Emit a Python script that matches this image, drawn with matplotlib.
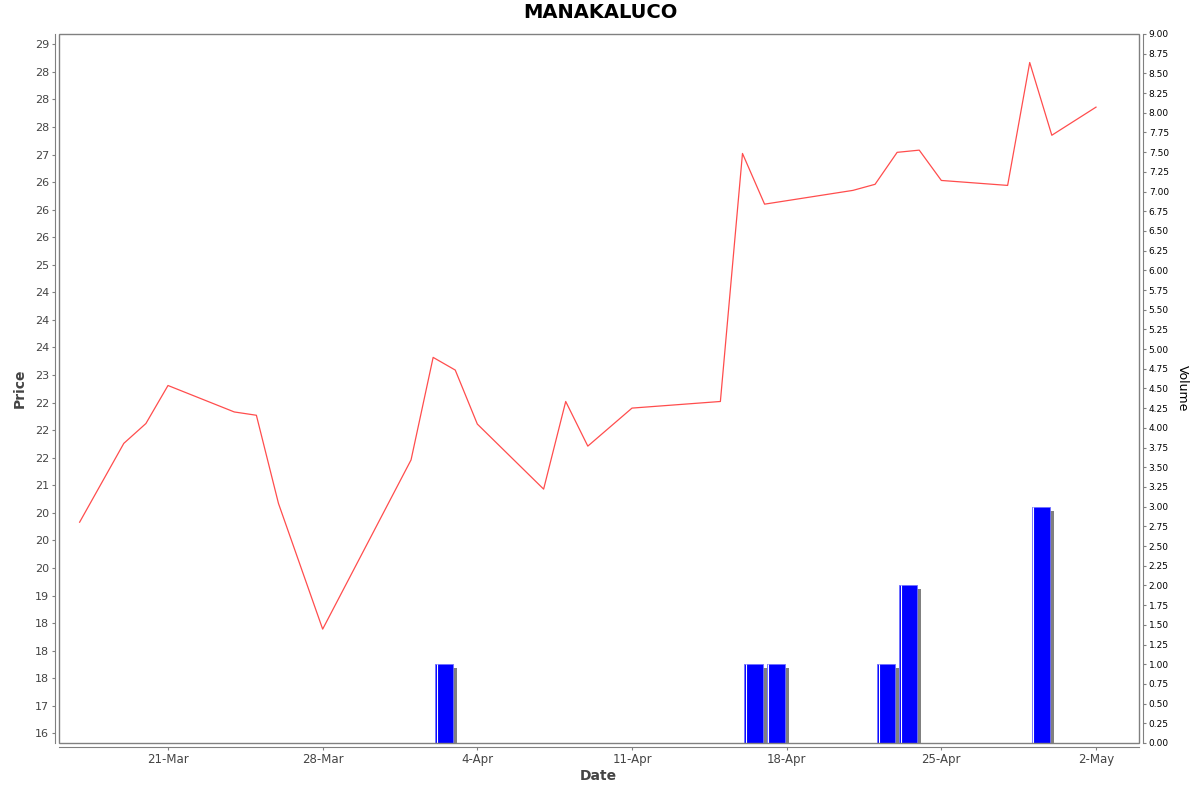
import datetime as dt

import matplotlib
matplotlib.use("Agg")
import matplotlib.pyplot as plt
import matplotlib.dates as mdates
import matplotlib.patheffects as pe
import numpy as np
from matplotlib.patches import Rectangle
from matplotlib.ticker import FixedLocator, FuncFormatter

# price series
price_dates = ["2025-03-17", "2025-03-19", "2025-03-20", "2025-03-21", "2025-03-24",
               "2025-03-25", "2025-03-26", "2025-03-28", "2025-04-01", "2025-04-02",
               "2025-04-03", "2025-04-04", "2025-04-07", "2025-04-08", "2025-04-09",
               "2025-04-11", "2025-04-15", "2025-04-16", "2025-04-17", "2025-04-21",
               "2025-04-22", "2025-04-23", "2025-04-24", "2025-04-25", "2025-04-28",
               "2025-04-29", "2025-04-30", "2025-05-02"]
price_values = [20.33, 21.76, 22.12, 22.81, 22.33,
                22.27, 20.67, 18.39, 21.46, 23.32,
                23.09, 22.11, 20.93, 22.52, 21.71,
                22.40, 22.52, 27.02, 26.10, 26.35,
                26.46, 27.04, 27.08, 26.53, 26.44,
                28.67, 27.35, 27.86]

# volume series
vol_dates = ["2025-04-02", "2025-04-16", "2025-04-17", "2025-04-22", "2025-04-23", "2025-04-29"]
vol_values = [1, 1, 1, 1, 2, 3]

x_ticks = ["2025-03-21", "2025-03-28", "2025-04-04", "2025-04-11",
           "2025-04-18", "2025-04-25", "2025-05-02"]


def to_num(days):
    return mdates.date2num([dt.datetime.strptime(d, "%Y-%m-%d") for d in days])


px = to_num(price_dates)
vx = to_num(vol_dates)
tx = to_num(x_ticks)

fig = plt.figure(figsize=(12, 7.92), dpi=100)
ax = fig.add_axes([59 / 1200, 1 - 743 / 792, 1080 / 1200, 709 / 792])
vax = ax.twinx()
ax.set_zorder(2)
ax.patch.set_visible(False)
vax.set_zorder(1)

grey = "#808080"
txt = "#444444"

# volume bars with drop shadow
bars = vax.bar(vx + 0.09, vol_values, width=0.82, align="edge", color="#0000ff",
               edgecolor="#7070ff", linewidth=0.6)
for b in bars:
    b.set_path_effects([pe.SimplePatchShadow(offset=(2.9, -2.9), shadow_rgbFace=grey, alpha=1.0),
                        pe.Normal()])
vax.vlines(vx + 0.16, 0, vol_values, color="white", linewidth=0.8)

ax.plot(px, price_values, color="#ff4d4d", linewidth=0.9)

x0 = mdates.date2num(dt.datetime(2025, 3, 16)) + 0.067
x1 = mdates.date2num(dt.datetime(2025, 5, 3)) + 0.946
ax.set_xlim(x0, x1)
ax.set_ylim(16.324, 29.187)
vax.set_ylim(0, 9)

ax.xaxis.set_major_locator(FixedLocator(tx))
ax.xaxis.set_major_formatter(mdates.DateFormatter("%-d-%b"))
ax.yaxis.set_major_locator(FixedLocator(np.arange(16.5, 29.01, 0.5)))
ax.yaxis.set_major_formatter(FuncFormatter(lambda v, p: f"{v:.0f}"))
vax.yaxis.set_major_locator(FixedLocator(np.arange(0, 9.01, 0.25)))
vax.yaxis.set_major_formatter(FuncFormatter(lambda v, p: f"{v:.2f}"))

for s in ["top", "right"]:
    ax.spines[s].set_visible(False)
for s in ["top", "left", "bottom"]:
    vax.spines[s].set_visible(False)
for s in ["left", "bottom"]:
    ax.spines[s].set_position(("outward", 3))
    ax.spines[s].set_color(grey)
vax.spines["right"].set_position(("outward", 3))
vax.spines["right"].set_color(grey)

ax.add_patch(Rectangle((0, 0), 1, 1, transform=ax.transAxes, fill=False,
                       edgecolor=grey, linewidth=1.0, clip_on=False, zorder=5))

ax.tick_params(axis="x", length=2, width=0.8, color=grey, labelsize=8.5, labelcolor=txt, pad=2)
ax.tick_params(axis="y", length=2, width=0.8, color=grey, labelsize=8, labelcolor=txt, pad=2)
vax.tick_params(axis="y", length=2, width=0.8, color=grey, labelsize=6.5, labelcolor="black", pad=2)

fig.text(0.5, 1 - 13 / 792, "MANAKALUCO", ha="center", va="center",
         fontsize=14, fontweight="bold", color="black")
fig.text(598 / 1200, 1 - 776 / 792, "Date", ha="center", va="center",
         fontsize=10, fontweight="bold", color=txt)
fig.text(20 / 1200, 1 - 388 / 792, "Price", ha="center", va="center", rotation=90,
         fontsize=10, fontweight="bold", color=txt)
fig.text(1182 / 1200, 1 - 388 / 792, "Volume", ha="center", va="center", rotation=270,
         fontsize=9, color="black")

fig.savefig("out.png", dpi=100)
